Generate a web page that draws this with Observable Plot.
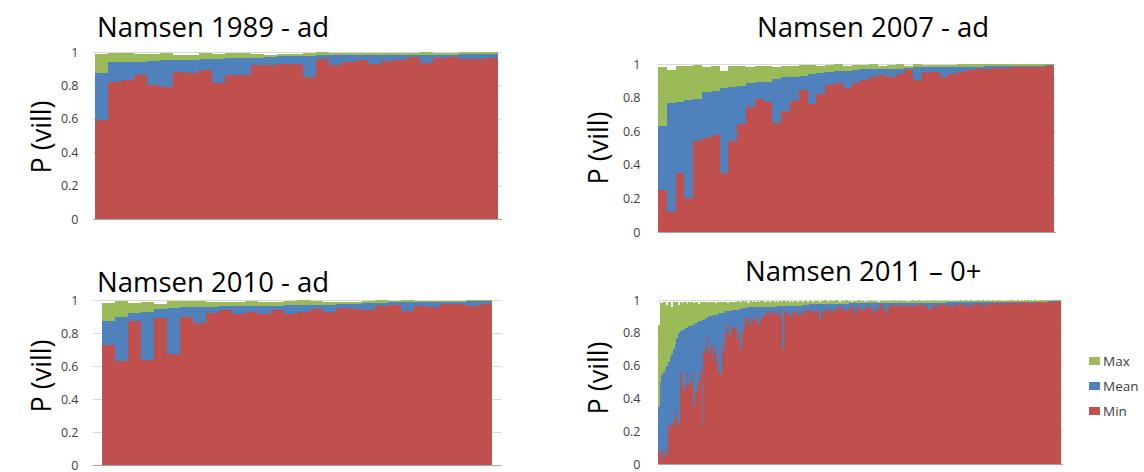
<!DOCTYPE html>
<html>
<head>
<meta charset="utf-8">
<script src="https://cdn.jsdelivr.net/npm/d3@7"></script>
<script src="https://cdn.jsdelivr.net/npm/@observablehq/plot@0.6"></script>
<style>
  html, body { margin: 0; padding: 0; background: #fff; }
  #root { position: relative; width: 1144px; height: 472px; overflow: hidden; background: #fff; font-family: "Open Sans", sans-serif; }
  .title { position: absolute; font-size: 27.5px; color: #000; white-space: nowrap; line-height: 1; }
  .ylab { position: absolute; font-size: 27px; color: #000; white-space: nowrap; line-height: 1; transform: translate(-50%, -50%) rotate(-90deg); }
  .panel { position: absolute; }
  .legend { position: absolute; left: 1089px; top: 348px; font-size: 13.5px; color: #404040; }
  .legend div { display: flex; align-items: center; height: 25px; }
  .legend span.sw { display: inline-block; width: 11px; height: 8px; margin-right: 3px; }
</style>
</head>
<body>
<div id="root"></div>
<script>
// ---- data ----
const seriesNames = ["Max", "Mean", "Min"];
const seriesColors = ["#9BBB59", "#4F81BD", "#C0504D"];
const yTicks = [0, 0.2, 0.4, 0.6, 0.8, 1];
const titles = ["Namsen 1989 - ad", "Namsen 2007 - ad", "Namsen 2010 - ad", "Namsen 2011 \u2013 0+"];
const yLabel = "P (vill)";

// Namsen 1989 - ad
const min1989 = [0.59,0.82,0.83,0.86,0.80,0.79,0.88,0.875,0.89,0.815,0.86,0.865,0.925,0.925,0.93,0.93,0.85,0.96,0.92,0.94,0.95,0.93,0.945,0.95,0.97,0.935,0.965,0.97,0.96,0.96,0.965];
const mean1989 = [0.875,0.94,0.94,0.94,0.945,0.95,0.955,0.955,0.96,0.96,0.965,0.965,0.965,0.97,0.975,0.975,0.975,0.985,0.985,0.985,0.985,0.985,0.985,0.985,0.985,0.985,0.985,0.985,0.99,0.99,0.99];
const max1989 = [0.99,0.995,0.995,0.99,0.99,0.995,0.985,0.985,0.995,0.99,0.995,0.995,0.99,0.985,0.99,0.99,0.995,1.0,0.995,0.995,0.995,0.995,0.995,0.995,0.995,1.0,0.995,0.995,1.0,1.0,1.0];

// Namsen 2007 - ad
const min2007 = [0.25,0.12,0.35,0.20,0.54,0.56,0.575,0.35,0.54,0.645,0.745,0.79,0.775,0.65,0.72,0.78,0.845,0.76,0.82,0.875,0.885,0.855,0.885,0.905,0.925,0.935,0.925,0.94,0.965,0.905,0.955,0.95,0.92,0.94,0.955,0.965,0.97,0.97,0.975,0.975,0.98,0.98,0.98,0.985,0.99];
const mean2007 = [0.63,0.765,0.775,0.785,0.79,0.835,0.84,0.855,0.865,0.87,0.885,0.89,0.895,0.91,0.92,0.925,0.93,0.94,0.945,0.95,0.96,0.96,0.965,0.97,0.97,0.97,0.97,0.972,0.976,0.98,0.98,0.98,0.98,0.98,0.98,0.984,0.984,0.986,0.988,0.988,0.988,0.99,0.99,0.99,0.995];
const max2007 = [0.985,0.965,0.99,0.99,0.995,0.98,0.99,0.96,0.99,0.99,0.98,0.99,0.99,0.98,0.99,0.99,0.995,0.995,0.99,0.995,1.0,0.99,0.995,0.995,1.0,0.99,0.995,1.0,0.99,1.0,0.995,0.995,0.995,0.995,1.0,1.0,1.0,1.0,1.0,1.0,1.0,1.0,1.0,1.0,1.0];

// Namsen 2010 - ad
const min2010 = [0.73,0.63,0.875,0.635,0.89,0.675,0.90,0.86,0.92,0.94,0.915,0.93,0.915,0.94,0.915,0.925,0.945,0.925,0.95,0.945,0.94,0.965,0.97,0.935,0.965,0.96,0.975,0.975,0.965,0.975];
const mean2010 = [0.875,0.895,0.92,0.925,0.945,0.95,0.955,0.96,0.96,0.962,0.962,0.966,0.966,0.966,0.97,0.97,0.97,0.97,0.975,0.978,0.982,0.982,0.986,0.986,0.986,0.99,0.99,0.99,0.994,0.994];
const max2010 = [0.98,0.995,0.98,0.985,0.975,0.995,0.995,0.995,0.99,0.99,0.99,0.995,0.99,0.99,0.995,1.0,0.995,0.99,0.99,0.99,0.995,1.0,0.995,1.0,0.995,0.995,0.995,0.995,1.0,1.0];

// Namsen 2011 - 0+
const min2011 = [
  0.08,0.03,0.08,0.045,0.09,0.07,0.24,0.23,0.23,0.26,
  0.33,0.28,0.24,0.56,0.46,0.45,0.49,0.56,0.48,0.50,
  0.57,0.35,0.46,0.44,0.51,0.57,0.23,0.68,0.71,0.78,
  0.67,0.72,0.63,0.72,0.67,0.62,0.56,0.55,0.74,0.69,
  0.80,0.85,0.78,0.79,0.83,0.84,
  0.83,0.76,0.80,0.70,0.81,0.85,0.89,0.89,0.84,0.86,
  0.88,0.90,0.89,0.85,0.86,0.88,0.91,0.91,0.90,0.93,
  0.92,0.93,0.91,0.92,0.90,0.93,0.90,0.93,0.70,0.93,
  0.92,0.92,0.91,0.89,0.92,0.93,0.93,0.91,0.90,0.92,
  0.93,0.92,0.93,0.94,0.93,0.92,0.93,0.93,
  0.94,0.92,0.88,0.935,0.91,0.94,0.93,0.95,0.935,0.93,
  0.94,0.93,0.95,0.95,0.955,0.95,0.96,0.94,0.93,0.935,
  0.96,0.955,0.95,0.915,0.95,0.96,0.95,0.94,0.935,0.96,
  0.965,0.95,0.97,0.94,0.92,0.95,0.93,0.96,0.97,0.975,
  0.945,0.935,0.92,0.96,0.97,0.975,0.965,0.965,
  0.965,0.97,0.96,0.965,0.97,0.965,0.955,0.97,0.965,0.97,
  0.96,0.97,0.965,0.97,0.975,0.965,0.97,0.96,0.97,0.94,
  0.945,0.965,0.97,0.965,0.945,0.97,0.975,0.965,0.97,0.97,
  0.975,0.965,0.97,0.95,0.97,0.975,0.97,0.965,0.975,0.97,
  0.975,0.97,0.96,0.975,0.955,0.975,0.97,
  0.975,0.98,0.975,0.97,0.975,0.98,0.96,0.975,0.98,0.975,
  0.98,0.975,0.98,0.985,0.975,0.98,0.98,0.975,0.985,0.98,
  0.98,0.975,0.985,0.98,0.97,0.98,0.985,0.98,0.98,0.985,
  0.98,0.985,0.98,0.985,0.975,0.985,0.985,0.98,0.985,0.985,
  0.98,0.985,0.985,0.99,0.985,0.985,0.99,0.985,0.99,0.99,
  0.99
];
const mean2011 = [
  0.35,0.50,0.54,0.56,0.58,0.60,0.62,0.65,0.67,0.70,
  0.73,0.77,0.80,0.81,0.82,0.82,0.83,0.83,0.84,0.84,
  0.85,0.85,0.86,0.86,0.87,0.87,0.88,0.88,0.89,0.89,
  0.90,0.90,0.90,0.91,0.91,0.91,0.92,0.92,0.92,0.92,
  0.93,0.93,0.93,0.93,0.94,0.94,
  0.94,0.94,0.945,0.945,0.95,0.95,0.95,0.955,0.955,0.955,
  0.96,0.96,0.96,0.96,0.96,0.96,0.96,0.96,0.96,0.96,
  0.96,0.96,0.96,0.96,0.96,0.965,0.965,0.965,0.965,0.965,
  0.965,0.965,0.965,0.965,0.965,0.965,0.965,0.965,0.965,0.965,
  0.97,0.97,0.972,0.972,0.974,0.974,0.975,0.975,
  0.975,0.975,0.975,0.976,0.976,0.976,0.977,0.977,0.977,0.977,
  0.977,0.977,0.978,0.978,0.978,0.978,0.978,0.978,0.978,0.978,
  0.979,0.979,0.979,0.979,0.979,0.979,0.979,0.98,0.98,0.98,
  0.98,0.98,0.98,0.98,0.98,0.98,0.98,0.98,0.98,0.98,
  0.98,0.98,0.98,0.98,0.98,0.98,0.98,0.98,
  0.981,0.981,0.981,0.981,0.981,0.982,0.982,0.982,0.982,0.982,
  0.982,0.982,0.983,0.983,0.983,0.983,0.983,0.983,0.983,0.983,
  0.984,0.984,0.984,0.984,0.984,0.984,0.984,0.984,0.984,0.984,
  0.985,0.985,0.985,0.985,0.985,0.985,0.985,0.985,0.985,0.985,
  0.985,0.985,0.985,0.985,0.985,0.985,0.985,
  0.986,0.986,0.986,0.986,0.986,0.986,0.986,0.986,0.987,0.987,
  0.987,0.987,0.987,0.987,0.987,0.987,0.988,0.988,0.988,0.988,
  0.988,0.988,0.988,0.988,0.988,0.988,0.989,0.989,0.989,0.989,
  0.989,0.989,0.989,0.989,0.989,0.99,0.99,0.99,0.99,0.99,
  0.99,0.99,0.99,0.992,0.992,0.992,0.992,0.992,0.993,0.993,
  0.993
];
const max2011 = [
  0.85,0.99,0.98,0.99,0.99,0.97,0.99,0.985,0.96,0.99,
  0.985,0.99,0.97,0.99,0.98,0.99,0.99,0.975,0.99,0.985,
  0.99,0.98,0.99,0.99,0.975,0.99,0.985,0.99,0.99,0.98,
  0.99,0.99,0.985,0.99,0.98,0.99,0.99,0.99,0.985,0.99,
  0.99,0.98,0.99,0.99,0.99,0.985,
  0.99,0.995,0.99,0.985,0.995,0.99,0.995,0.98,0.99,0.995,
  0.99,0.995,0.985,0.995,0.99,0.995,0.995,0.99,0.985,0.995,
  0.99,0.995,0.995,0.99,0.995,0.985,0.995,0.99,0.995,0.995,
  0.99,0.995,0.99,0.995,0.985,0.995,0.995,0.99,0.995,0.995,
  0.99,0.995,0.995,0.99,0.995,0.995,0.99,0.995,
  0.995,0.995,0.99,0.995,0.995,1.0,0.995,0.99,0.995,0.995,
  0.995,0.995,1.0,0.995,0.99,0.995,0.995,0.995,1.0,0.995,
  0.995,0.99,0.995,0.995,0.995,1.0,0.995,0.995,0.995,0.99,
  0.995,0.995,1.0,0.995,0.995,0.995,0.995,0.99,0.995,0.995,
  0.995,1.0,0.995,0.995,0.995,0.995,1.0,0.995,
  0.995,0.995,1.0,0.995,0.995,0.995,0.99,0.995,0.995,1.0,
  0.995,0.995,0.995,1.0,0.995,0.995,0.995,0.995,1.0,0.995,
  0.995,0.995,1.0,0.995,0.995,0.995,0.995,1.0,0.995,0.995,
  1.0,0.995,0.995,0.995,1.0,0.995,0.995,0.995,1.0,0.995,
  0.995,1.0,0.995,0.995,1.0,0.995,0.995,
  0.995,1.0,0.995,0.995,1.0,0.995,0.995,1.0,0.995,0.995,
  1.0,0.995,0.995,1.0,0.995,1.0,0.995,0.995,1.0,0.995,
  1.0,0.995,1.0,0.995,0.995,1.0,0.995,1.0,0.995,1.0,
  0.995,1.0,0.995,1.0,0.995,1.0,1.0,0.995,1.0,1.0,
  0.995,1.0,1.0,1.0,0.995,1.0,1.0,1.0,1.0,1.0,
  1.0
];

// ---- drawing ----
const root = document.getElementById("root");

function panel(minV, meanV, maxV, g) {
  const ML = 60, MT = 10, MR = 3, MB = 10;
  const idx = minV.map((_, i) => i);
  const chart = Plot.plot({
    width: g.right - g.left + ML + MR,
    height: g.bottom - g.top + MT + MB,
    marginLeft: ML, marginTop: MT, marginRight: MR, marginBottom: MB,
    style: { fontFamily: "Open Sans, sans-serif", fontSize: "12.5px", color: "#404040", background: "transparent", overflow: "visible" },
    x: { type: "band", domain: idx, padding: 0, axis: null, insetRight: 2 },
    y: { domain: [0, 1], ticks: yTicks, tickFormat: d3.format("~g"), tickSize: 0, tickPadding: g.pad, label: null },
    marks: [
      Plot.ruleY(yTicks.slice(1), { stroke: "#d9d9d9" }),
      Plot.barY(idx, { x: i => i, y: i => maxV[i], fill: seriesColors[0], shapeRendering: "crispEdges" }),
      Plot.barY(idx, { x: i => i, y: i => meanV[i], fill: seriesColors[1], shapeRendering: "crispEdges" }),
      Plot.barY(idx, { x: i => i, y: i => minV[i], fill: seriesColors[2], shapeRendering: "crispEdges" }),
      Plot.ruleY([0], { stroke: "#a6a6a6" })
    ]
  });
  chart.classList.add("panel");
  chart.style.left = (g.left - ML) + "px";
  chart.style.top = (g.top - MT) + "px";
  chart.style.position = "absolute";
  root.appendChild(chart);

  const t = document.createElement("div");
  t.className = "title";
  t.textContent = g.title;
  t.style.left = g.tx + "px";
  t.style.top = g.ty + "px";
  root.appendChild(t);

  const yl = document.createElement("div");
  yl.className = "ylab";
  yl.textContent = yLabel;
  yl.style.left = g.lx + "px";
  yl.style.top = g.ly + "px";
  root.appendChild(yl);
}

panel(min1989, mean1989, max1989, { left: 93, right: 502, top: 52, bottom: 219, pad: 15, title: titles[0], tx: 97, ty: 13, lx: 40, ly: 137 });
panel(min2007, mean2007, max2007, { left: 658, right: 1056, top: 64, bottom: 232, pad: 18, title: titles[1], tx: 757, ty: 13, lx: 597, ly: 148 });
panel(min2010, mean2010, max2010, { left: 93, right: 502, top: 300, bottom: 465, pad: 15, title: titles[2], tx: 97, ty: 268, lx: 40, ly: 376 });
panel(min2011, mean2011, max2011, { left: 658, right: 1063, top: 300, bottom: 464, pad: 18, title: titles[3], tx: 745, ty: 257, lx: 597, ly: 378 });

// legend
const leg = document.createElement("div");
leg.className = "legend";
seriesNames.forEach((name, k) => {
  const row = document.createElement("div");
  const sw = document.createElement("span");
  sw.className = "sw";
  sw.style.background = seriesColors[k];
  row.appendChild(sw);
  row.appendChild(document.createTextNode(name));
  leg.appendChild(row);
});
root.appendChild(leg);
</script>
</body>
</html>
